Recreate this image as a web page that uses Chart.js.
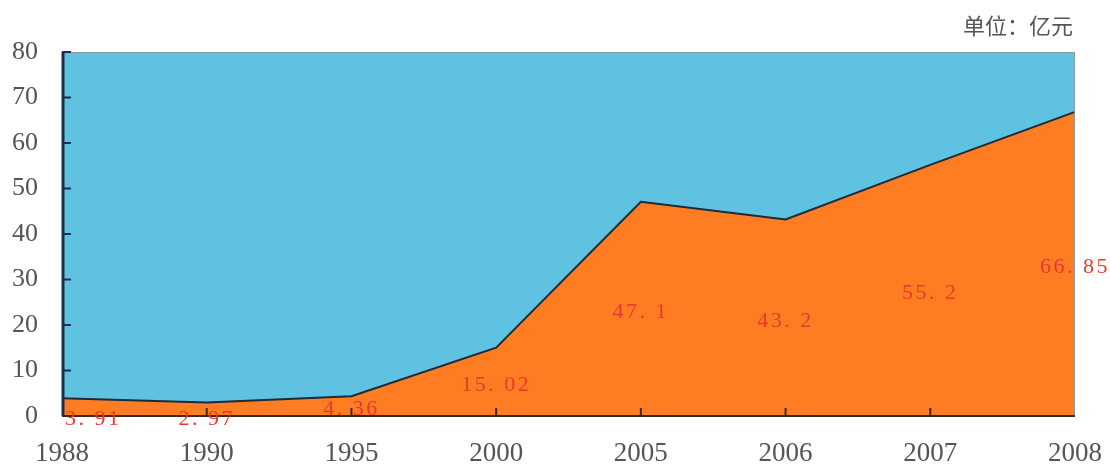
<!DOCTYPE html>
<html>
<head>
<meta charset="utf-8">
<script src="https://cdn.jsdelivr.net/npm/chart.js@4.4.1/dist/chart.umd.min.js"></script>
<style>
  html, body { margin: 0; padding: 0; background: #fff; }
  #wrap { width: 1110px; height: 466px; }
</style>
</head>
<body>
<div id="wrap"><canvas id="chart" width="1110" height="466"></canvas></div>
<script>
// values (单位：亿元)
const years = ["1988", "1990", "1995", "2000", "2005", "2006", "2007", "2008"]
const amounts = [3.91, 2.97, 4.36, 15.02, 47.1, 43.2, 55.2, 66.85]
const yTicks = [0, 10, 20, 30, 40, 50, 60, 70, 80]
const unitText = "单位：亿元"

const BLUE = "#5ec2e0"
const ORANGE = "#ff7d22"
const LINE = "#1c2a3c"
const AXIS = "#1f2f4a"
const LABEL_RED = "#e8392f"
const TEXT = "#555555"

// blue plot background, frame, inner tick marks, value labels, unit text
const decorPlugin = {
  id: "decor",
  beforeDatasetsDraw(chart) {
    const { ctx, chartArea: a } = chart
    ctx.save()
    ctx.fillStyle = BLUE
    ctx.fillRect(a.left, a.top, a.right - a.left, a.bottom - a.top)
    ctx.restore()
  },
  afterDatasetsDraw(chart) {
    const { ctx, chartArea: a, scales } = chart
    ctx.save()

    // top and right edges: thin grey
    ctx.strokeStyle = "#8a9aa8"
    ctx.lineWidth = 1
    ctx.beginPath()
    ctx.moveTo(a.left, a.top + 0.5)
    ctx.lineTo(a.right - 0.5, a.top + 0.5)
    ctx.lineTo(a.right - 0.5, a.bottom)
    ctx.stroke()

    // left and bottom axes
    ctx.strokeStyle = AXIS
    ctx.lineWidth = 3
    ctx.beginPath()
    ctx.moveTo(a.left + 1, a.top)
    ctx.lineTo(a.left + 1, a.bottom)
    ctx.stroke()
    ctx.strokeStyle = "#3a2a20"
    ctx.lineWidth = 2
    ctx.beginPath()
    ctx.moveTo(a.left, a.bottom)
    ctx.lineTo(a.right, a.bottom)
    ctx.stroke()

    // tick marks pointing into the plot
    ctx.strokeStyle = AXIS
    ctx.lineWidth = 2
    scales.y.ticks.forEach((t, i) => {
      const y = scales.y.getPixelForTick(i)
      if (t.value === 0) return
      ctx.beginPath()
      ctx.moveTo(a.left, y)
      ctx.lineTo(a.left + 9, y)
      ctx.stroke()
    })
    ctx.strokeStyle = "#3a2a20"
    scales.x.ticks.forEach((t, i) => {
      if (i === 0 || i === scales.x.ticks.length - 1) return
      const x = scales.x.getPixelForTick(i)
      ctx.beginPath()
      ctx.moveTo(x, a.bottom)
      ctx.lineTo(x, a.bottom - 8)
      ctx.stroke()
    })

    // value labels, halfway up each point (tiny ones sit on the axis)
    ctx.font = "22px 'Liberation Serif'"
    ctx.letterSpacing = "2.5px"
    ctx.fillStyle = LABEL_RED
    ctx.textAlign = "center"
    ctx.textBaseline = "middle"
    const meta = chart.getDatasetMeta(0)
    meta.data.forEach((pt, i) => {
      const v = amounts[i]
      const txt = String(v).replace(".", ". ")
      const w = ctx.measureText(txt).width
      const x = Math.max(pt.x, a.left + 3 + w / 2)
      let y = scales.y.getPixelForValue(v / 2) + 3
      if (v < 4) y = a.bottom + 3
      ctx.fillText(txt, x, y)
    })

    // unit
    ctx.letterSpacing = "0px"
    ctx.font = "22px 'Noto Sans CJK SC'"
    ctx.fillStyle = TEXT
    ctx.textAlign = "right"
    ctx.fillText(unitText, 1073, 26)
    ctx.restore()
  }
}

new Chart(document.getElementById("chart"), {
  type: "line",
  data: {
    labels: years,
    datasets: [{
      data: amounts,
      fill: "origin",
      backgroundColor: ORANGE,
      borderColor: LINE,
      borderWidth: 2,
      pointRadius: 0,
      tension: 0
    }]
  },
  options: {
    responsive: false,
    animation: false,
    events: [],
    layout: { padding: { top: 52, right: 35, left: 0, bottom: 0 } },
    plugins: {
      legend: { display: false },
      tooltip: { enabled: false }
    },
    scales: {
      x: {
        offset: false,
        grid: { display: false, drawTicks: false },
        border: { display: false },
        ticks: {
          autoSkip: false,
          maxRotation: 0,
          padding: 22,
          color: TEXT,
          font: { family: "'Liberation Serif'", size: 27 }
        },
        afterFit: s => { s.height = 50; s.paddingLeft = 0; s.paddingRight = 0 }
      },
      y: {
        min: 0,
        max: 80,
        grid: { display: false, drawTicks: false },
        border: { display: false },
        afterBuildTicks: s => { s.ticks = yTicks.map(v => ({ value: v })) },
        ticks: {
          padding: 24,
          color: TEXT,
          font: { family: "'Liberation Serif'", size: 26 }
        },
        afterFit: s => { s.width = 62; s.paddingTop = 0; s.paddingBottom = 0 }
      }
    }
  },
  plugins: [decorPlugin]
})
</script>
</body>
</html>
